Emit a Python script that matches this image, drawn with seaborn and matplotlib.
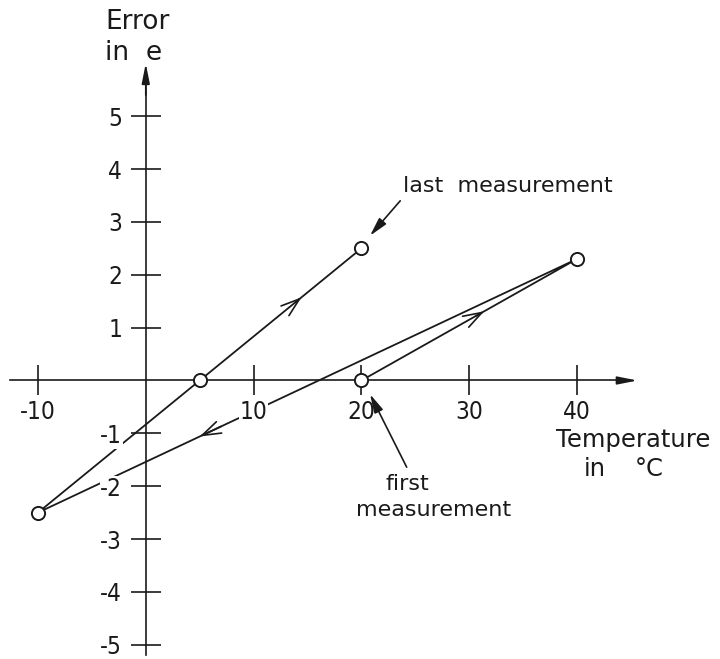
import numpy as np
import pandas as pd
import matplotlib
matplotlib.use('Agg')
import matplotlib.pyplot as plt
import seaborn as sns

# measurement cycle in the order it was taken
temperature = [20, 40, -10, 5, 20]
error = [0.0, 2.3, -2.5, 0.0, 2.5]
step = [1, 2, 3, 4, 5]

x_ticks = [-10, 10, 20, 30, 40]
y_ticks = [-5, -4, -3, -2, -1, 1, 2, 3, 4, 5]

df = pd.DataFrame({'Temperature': temperature, 'Error': error, 'Step': step})

sns.set_style('white')
plt.rcParams['font.family'] = ['DejaVu Sans']
plt.rcParams['axes.unicode_minus'] = False

ink = '#1a1a1a'
fig = plt.figure(figsize=(7.2, 6.59), dpi=100)
ax = fig.add_axes([0, 0, 1, 1])

sns.lineplot(data=df, x='Temperature', y='Error', sort=False, estimator=None,
             color=ink, lw=1.3, ax=ax, zorder=2)
sns.scatterplot(data=df, x='Temperature', y='Error', s=90, facecolor='white',
                edgecolor=ink, linewidth=1.4, ax=ax, zorder=4)

# direction arrows along the path
for i, frac in [(0, 0.57), (1, 0.70), (3, 0.63)]:
    x0, y0 = temperature[i], error[i]
    x1, y1 = temperature[i + 1], error[i + 1]
    tip = (x0 + frac * (x1 - x0), y0 + frac * (y1 - y0))
    tail = (x0 + (frac - 0.04) * (x1 - x0), y0 + (frac - 0.04) * (y1 - y0))
    ax.annotate('', xy=tip, xytext=tail,
                arrowprops=dict(arrowstyle='->,head_length=0.9,head_width=0.3',
                                color=ink, lw=1.2, shrinkA=0, shrinkB=0,
                                mutation_scale=15))

ax.set_xlim(-13.52, 53.26)
ax.set_ylim(-5.27, 7.2)
ax.set_xlabel('')
ax.set_ylabel('')

# axes through the origin
for side in ['top', 'right']:
    ax.spines[side].set_visible(False)
ax.spines['left'].set_position(('data', 0))
ax.spines['bottom'].set_position(('data', 0))
ax.spines['bottom'].set_bounds(-12.6, 44.5)
ax.spines['left'].set_bounds(-5.2, 5.6)
for side in ['left', 'bottom']:
    ax.spines[side].set_color(ink)
    ax.spines[side].set_linewidth(1.2)

ax.annotate('', xy=(45.6, 0), xytext=(44.0, 0),
            arrowprops=dict(arrowstyle='-|>,head_length=1.0,head_width=0.2',
                            color=ink, lw=1.2, shrinkA=0, shrinkB=0, mutation_scale=12))
ax.annotate('', xy=(0, 6.0), xytext=(0, 5.4),
            arrowprops=dict(arrowstyle='-|>,head_length=1.0,head_width=0.2',
                            color=ink, lw=1.2, shrinkA=0, shrinkB=0, mutation_scale=12))

ax.set_xticks(x_ticks)
ax.set_yticks(y_ticks)
ax.set_axisbelow(False)
ax.tick_params(axis='both', direction='inout', length=22, width=1.2, color=ink,
               labelsize=17.5, labelcolor=ink, bottom=True, left=True)
ax.tick_params(axis='x', pad=3)
ax.tick_params(axis='y', pad=6)
for lab in ax.get_xticklabels() + ax.get_yticklabels():
    lab.set_fontstretch('condensed')
    lab.set_bbox(dict(facecolor='white', edgecolor='none', pad=0.5))

txt = dict(family='DejaVu Sans', color=ink, ha='center', va='center')
ax.text(-0.77, 6.79, 'Error', fontsize=19, **txt)
ax.text(-1.14, 6.19, 'in  e', fontsize=19, **txt)
ax.text(45.2, -1.13, 'Temperature', fontsize=17.5, **txt)
ax.text(41.6, -1.68, 'in', fontsize=17.5, **txt)
ax.text(46.7, -1.68, '°C', fontsize=17.5, **txt)
ax.text(23.85, 3.68, 'last  measurement', fontsize=16,
        family='DejaVu Sans', color=ink, ha='left', va='center')
ax.text(24.3, -1.96, 'first', fontsize=16, **txt)
ax.text(26.7, -2.45, 'measurement', fontsize=16, **txt)

ax.annotate('', xy=(20.8, 2.74), xytext=(23.6, 3.40),
            arrowprops=dict(arrowstyle='-|>,head_length=0.8,head_width=0.2',
                            color=ink, lw=1.2, shrinkA=0, shrinkB=0, mutation_scale=14))
ax.annotate('', xy=(20.8, -0.26), xytext=(24.2, -1.64),
            arrowprops=dict(arrowstyle='-|>,head_length=0.8,head_width=0.2',
                            color=ink, lw=1.2, shrinkA=0, shrinkB=0, mutation_scale=14))

fig.savefig('out.png', dpi=100, facecolor='white')
